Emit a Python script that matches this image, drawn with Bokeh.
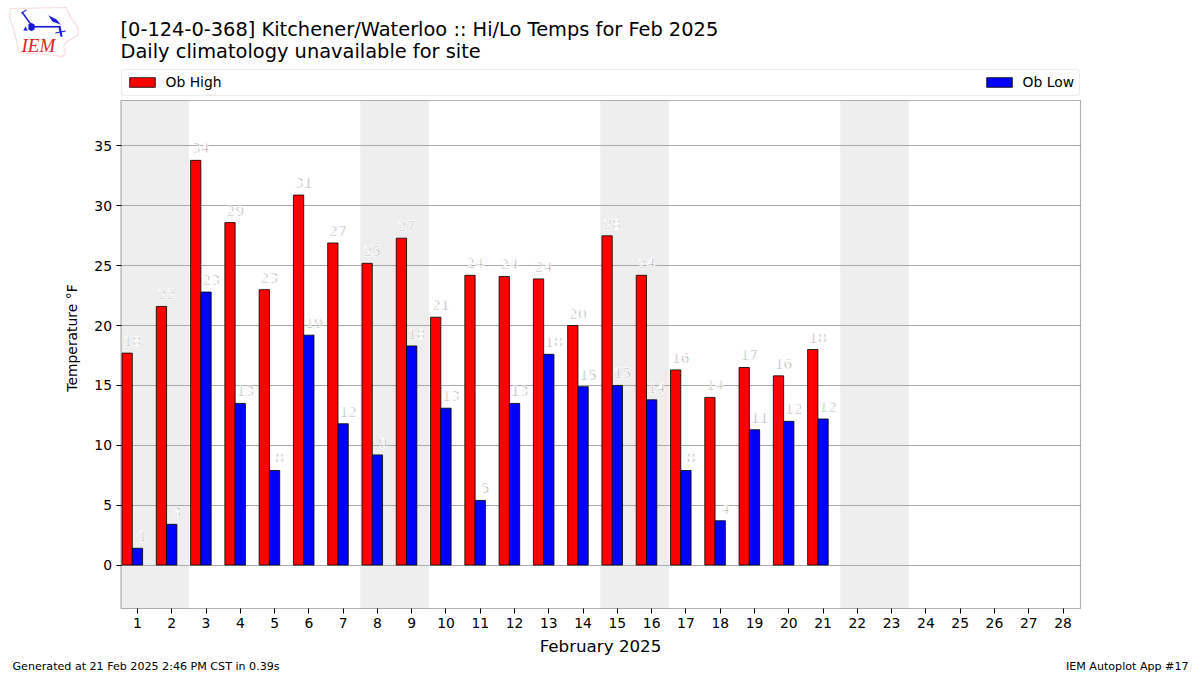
from bokeh.plotting import figure
from bokeh.embed import file_html
from bokeh.resources import INLINE
from bokeh.core.properties import value
from bokeh.models import (ColumnDataSource, BoxAnnotation, Legend, LegendItem, Label,
                          FixedTicker, Range1d, LabelSet, PolyAnnotation)
from bokeh.transform import dodge

TITLE_1 = "[0-124-0-368] Kitchener/Waterloo :: Hi/Lo Temps for Feb 2025"
TITLE_2 = "Daily climatology unavailable for site"
FOOT_L = "Generated at 21 Feb 2025 2:46 PM CST in 0.39s"
FOOT_R = "IEM Autoplot App #17"
days = list(range(1, 22))
all_days = list(range(1, 29))
highs = [17.7, 21.6, 33.8, 28.6, 23.0, 30.9, 26.9, 25.2, 27.3, 20.7, 24.2, 24.1, 23.9, 20.0, 27.5, 24.2, 16.3, 14.0, 16.5, 15.8, 18.0]
lows = [1.4, 3.4, 22.8, 13.5, 7.9, 19.2, 11.8, 9.2, 18.3, 13.1, 5.4, 13.5, 17.6, 14.9, 15.0, 13.8, 7.9, 3.7, 11.3, 12.0, 12.2]
high_labels = ["18", "22", "34", "29", "23", "31", "27", "25", "27", "21", "24", "24", "24", "20", "28", "24", "16", "14", "17", "16", "18"]
low_labels = ["1", "3", "23", "13", "8", "19", "12", "9", "18", "13", "5", "13", "18", "15", "15", "14", "8", "4", "11", "12", "12"]
weekends = [(0.5, 2.5), (7.5, 9.5), (14.5, 16.5), (21.5, 23.5)]
y_ticks = [0, 5, 10, 15, 20, 25, 30, 35]

FONT = "DejaVu Sans"
W, H = 1200, 675
# the plotting box, in page pixels, and the axis limits it shows
BOX_L, BOX_R, BOX_T, BOX_B = 120.5, 1080.0, 100.0, 608.0
X_MIN, X_MAX, Y_MIN, Y_MAX = 0.52, 28.51, -3.63, 38.8

# The frame fills the whole page so that titles, legend and logo can sit around the box.
x_per_px = (X_MAX - X_MIN) / (BOX_R - BOX_L)
y_per_px = (Y_MAX - Y_MIN) / (BOX_B - BOX_T)
x_range = Range1d(X_MIN - BOX_L * x_per_px, X_MAX + (W - BOX_R) * x_per_px)
y_range = Range1d(Y_MIN - (H - BOX_B) * y_per_px, Y_MAX + BOX_T * y_per_px)

p = figure(width=W, height=H, output_backend="svg", toolbar_location=None, tools="",
           x_range=x_range, y_range=y_range,
           min_border=0, min_border_left=0, min_border_right=0,
           min_border_top=0, min_border_bottom=0)
p.outline_line_color = None

for a, b in weekends:
    p.add_layout(BoxAnnotation(left=max(a, X_MIN), right=b, bottom=Y_MIN, top=Y_MAX,
                               fill_color="#eeeeee", fill_alpha=1, line_color=None, level="image"))

p.xgrid.visible = False
p.ygrid.ticker = FixedTicker(ticks=y_ticks)
p.ygrid.cross_bounds = (X_MIN, X_MAX)
p.ygrid.grid_line_color = "#aaaaaa"
p.ygrid.grid_line_width = 1

src = ColumnDataSource(dict(day=days, hi=highs, lo=lows, hl=high_labels, ll=low_labels))
r_hi = p.vbar(x=dodge("day", -0.3, range=p.x_range), top="hi", bottom=0, width=0.3, source=src,
              fill_color="#ff0000", line_color="black", line_width=0.8)
r_lo = p.vbar(x="day", top="lo", bottom=0, width=0.3, source=src,
              fill_color="#0000ff", line_color="black", line_width=0.8)

label_style = dict(source=src, text_align="center", text_baseline="bottom", y_offset=7,
                   text_font=value(FONT), text_font_size="13.9px", text_color="black",
                   text_outline_color="white")
p.add_layout(LabelSet(x=dodge("day", -0.15, range=p.x_range), y="hi", text="hl", **label_style))
p.add_layout(LabelSet(x=dodge("day", 0.15, range=p.x_range), y="lo", text="ll", **label_style))

# plotting box outline
p.add_layout(BoxAnnotation(left=X_MIN, right=X_MAX, bottom=Y_MIN, top=Y_MAX, fill_alpha=0,
                           line_color="black", line_width=1.2, level="overlay"))

for ax in (p.xaxis[0], p.yaxis[0]):
    ax.major_tick_out = 5
    ax.major_tick_in = 0
    ax.minor_tick_out = 0
    ax.minor_tick_in = 0
    ax.major_tick_line_width = 1
    ax.axis_line_color = None
    ax.major_label_text_font = FONT
    ax.major_label_text_font_size = "13.9px"
    ax.major_label_text_color = "black"
    ax.major_label_standoff = 4
    ax.axis_label_text_font = FONT
    ax.axis_label_text_font_style = "normal"
    ax.axis_label_text_color = "black"
p.xaxis[0].ticker = FixedTicker(ticks=all_days)
p.yaxis[0].ticker = FixedTicker(ticks=y_ticks)
p.xaxis[0].fixed_location = Y_MIN
p.yaxis[0].fixed_location = X_MIN
p.xaxis[0].axis_label = "February 2025"
p.xaxis[0].axis_label_text_font_size = "16.7px"
p.xaxis[0].axis_label_standoff = 5
p.yaxis[0].axis_label = "Temperature °F"
p.yaxis[0].axis_label_text_font_size = "13.9px"
p.yaxis[0].axis_label_standoff = 12

legend = Legend(items=[LegendItem(label="Ob High", renderers=[r_hi]),
                       LegendItem(label="Ob Low", renderers=[r_lo])],
                orientation="horizontal", location=(BOX_L, H - 95.5), spacing=761, margin=0,
                padding=dict(left=4, right=5, top=4, bottom=5),
                border_line_color="#d9d9d9", border_line_width=1, border_radius=3,
                glyph_width=32, glyph_height=12, label_standoff=8,
                label_text_font=FONT, label_text_font_size="13.9px", label_text_color="black")
p.add_layout(legend, "center")


def page_text(x, y, text, size, align="left", color="black", font=FONT, style="normal"):
    p.add_layout(Label(x=x, y=y, x_units="canvas", y_units="canvas", text=text, text_font=font,
                       text_font_size=size, text_align=align, text_baseline="middle",
                       text_color=color, text_font_style=style))


page_text(120, 29, TITLE_1, "19.4px")
page_text(120, 51, TITLE_2, "19.4px")
page_text(12, 666, FOOT_L, "11.1px")
page_text(1188, 666, FOOT_R, "11.1px", align="right")

# IEM logo
logo_shapes = [
    ("outline", [10, 66, 68, 70, 74, 78, 77, 72, 66, 63, 65, 64, 61, 57, 18, 16, 13, 9],
     [8, 7, 12, 17, 22, 29, 35, 38, 41, 46, 50, 54, 57, 55, 52, 40, 28, 17]),
    ("solid", [48, 56, 60, 52], [15, 19, 24, 21]),
    ("solid", [32, 60, 60, 32], [25.5, 25.5, 27, 27]),
    ("solid", [28, 31, 34, 34, 31, 28], [24, 22.5, 24, 29, 30.5, 29]),
    ("solid", [21, 22, 32, 31], [12, 11, 25, 26]),
    ("solid", [21, 26, 26, 21], [12, 9, 10, 13]),
    ("solid", [58, 60, 62, 60], [26, 26, 36, 36]),
    ("solid", [55, 65, 65, 55], [32, 30, 31, 33]),
    ("solid", [23, 27, 25], [30, 30, 26]),
]
for kind, xs, ys in logo_shapes:
    if kind == "outline":
        style = dict(fill_alpha=0, line_color="#e08a8a", line_width=1.2)
    else:
        style = dict(fill_color="#1818d8", fill_alpha=1, line_color="#1818d8", line_width=0.5)
    p.add_layout(PolyAnnotation(xs=xs, ys=ys, xs_units="canvas", ys_units="canvas", **style))
page_text(21, 45, "IEM", "19px", color="#d62728", font="Liberation Serif", style="italic")

open("out.html", "w").write(file_html(p, INLINE))
